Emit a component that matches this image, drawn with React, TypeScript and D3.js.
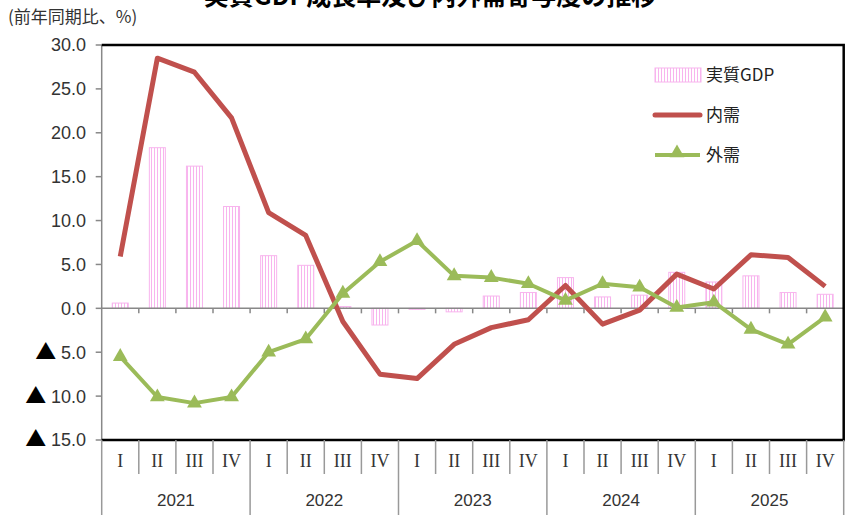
import * as d3 from 'd3';

// 四半期と年
const years = ['2021', '2022', '2023', '2024', '2025'];
const quarters = ['I', 'II', 'III', 'IV'];

// 前年同期比（%）
const gdp = [0.6, 18.3, 16.2, 11.6, 6.0, 4.9, 0.2, -1.9, -0.1, -0.4, 1.4, 1.8, 3.5, 1.3, 1.5, 4.1, 3.0, 3.7, 1.8, 1.6];
const domestic = [5.9, 28.5, 26.9, 21.7, 10.9, 8.3, -1.5, -7.5, -8.0, -4.1, -2.2, -1.3, 2.6, -1.8, -0.2, 3.9, 2.2, 6.1, 5.8, 2.5];
const external = [-5.5, -10.1, -10.8, -10.1, -5.0, -3.5, 1.7, 5.3, 7.7, 3.7, 3.5, 2.8, 0.9, 2.8, 2.4, 0.1, 0.7, -2.4, -4.1, -1.0];

const yTicks = [30, 25, 20, 15, 10, 5, 0, -5, -10, -15];

const W = 853, H = 515;
const left = 101.7, right = 843.7, top = 45, bottom = 440;
const font = '"Noto Sans CJK JP", "Noto Sans", sans-serif';
const numFont = '"Liberation Sans", Arial, sans-serif';
const pink = '#f8b4ee';
const red = '#c0504d';
const green = '#9bbb59';

export default function App() {
  const keys = d3.range(gdp.length).map(String);
  const x = d3.scaleBand().domain(keys).range([left, right]);
  const y = d3.scaleLinear().domain([-15, 30]).range([bottom, top]);
  const barW = 16;

  const line = d3.line<number>()
    .x((_, i) => x(String(i))! + x.bandwidth() / 2)
    .y(d => y(d));

  const tri = d3.symbol().type(d3.symbolTriangle).size(95);

  return (
    <svg width={W} height={H} style={{ position: 'absolute', left: 0, top: 0, background: '#fff' }} fontFamily={font}>
      <defs>
        <pattern id="stripe" width="3" height="4" patternUnits="userSpaceOnUse">
          <rect width="3" height="4" fill="#fff" />
          <rect x="1" width="1" height="4" fill={pink} />
        </pattern>
      </defs>
      <text x={430} y={5} textAnchor="middle" fontSize={25} fontWeight="bold">実質GDP成長率及び内外需寄与度の推移</text>
      <text x={8} y={23} fontSize={17} fill="#333">(前年同期比、%)</text>

      {/* y軸 */}
      <line x1={left} x2={left} y1={top} y2={bottom} stroke="#888" strokeWidth={1.5} />
      {yTicks.map(t => (
        <g key={t}>
          <line x1={left - 6} x2={left} y1={y(t)} y2={y(t)} stroke="#888" strokeWidth={1.5} />
          <text x={86} y={y(t)} dy="0.36em" textAnchor="end" fontSize={18} fill="#333" fontFamily={numFont}>
            {t < 0 && <tspan fontFamily={font} fill="#000" fontSize={21}>▲ </tspan>}
            {Math.abs(t).toFixed(1)}
          </text>
        </g>
      ))}

      {/* 棒 */}
      {gdp.map((v, i) => (
        <rect key={i} x={x(String(i))! + x.bandwidth() / 2 - barW / 2} y={Math.min(y(v), y(0))}
          width={barW} height={Math.max(Math.abs(y(v) - y(0)), 1)} fill="url(#stripe)" stroke={pink} strokeWidth={1} />
      ))}

      {/* ゼロ線 */}
      <line x1={left} x2={right} y1={y(0)} y2={y(0)} stroke="#888" strokeWidth={1.5} />
      {keys.slice(1).map(k => (
        <line key={k} x1={x(k)!} x2={x(k)!} y1={y(0)} y2={y(0) + 5} stroke="#888" strokeWidth={1.5} />
      ))}

      <path d={line(domestic)!} fill="none" stroke={red} strokeWidth={5} strokeLinejoin="round" />
      <path d={line(external)!} fill="none" stroke={green} strokeWidth={4} strokeLinejoin="round" />
      {external.map((v, i) => (
        <path key={i} d={tri()!} fill={green} transform={`translate(${x(String(i))! + x.bandwidth() / 2},${y(v)})`} />
      ))}

      {/* 枠 */}
      <path d={`M${left},${top}H${right}V${bottom}H${left}`} fill="none" stroke="#000" strokeWidth={2.5} />

      {/* 凡例 */}
      <rect x={655} y={68} width={46} height={14} fill="url(#stripe)" stroke={pink} strokeWidth={1} />
      <text x={706} y={75} dy="0.36em" fontSize={17} fill="#222">実質GDP</text>
      <line x1={655} x2={700} y1={115} y2={115} stroke={red} strokeWidth={5} strokeLinecap="round" />
      <text x={706} y={115} dy="0.36em" fontSize={17} fill="#222">内需</text>
      <line x1={655} x2={700} y1={155} y2={155} stroke={green} strokeWidth={4} />
      <path d={tri()!} fill={green} transform="translate(677,153)" />
      <text x={706} y={155} dy="0.36em" fontSize={17} fill="#222">外需</text>

      {/* 横軸ラベル */}
      {keys.map((k, i) => (
        <g key={k}>
          <line x1={x(k)!} x2={x(k)!} y1={bottom} y2={i % 4 === 0 ? H : 474} stroke="#999" strokeWidth={1.5} />
          <text x={x(k)! + x.bandwidth() / 2} y={467} textAnchor="middle" fontSize={18} fill="#333"
            fontFamily='"Liberation Serif", "DejaVu Serif", serif'>{quarters[i % 4]}</text>
        </g>
      ))}
      <line x1={right} x2={right} y1={bottom} y2={H} stroke="#999" strokeWidth={1.5} />
      {years.map((yr, j) => (
        <text key={yr} x={x(String(j * 4))! + x.bandwidth() * 2} y={506} textAnchor="middle" fontSize={17}
          fill="#333" fontFamily={numFont}>{yr}</text>
      ))}
    </svg>
  );
}
